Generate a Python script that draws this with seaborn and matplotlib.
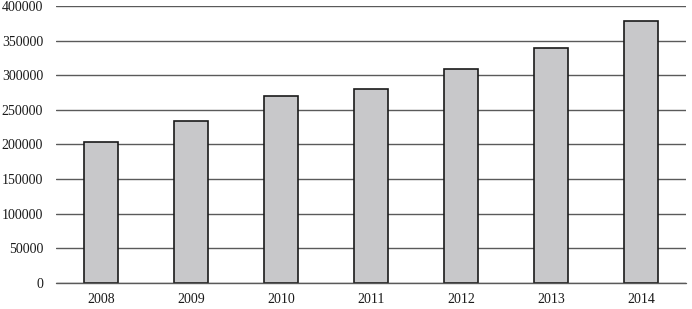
import matplotlib
matplotlib.use("Agg")
import matplotlib.pyplot as plt
import seaborn as sns
import pandas as pd

years = ["2008", "2009", "2010", "2011", "2012", "2013", "2014"]
values = [203000, 234000, 270000, 280000, 309000, 340000, 378000]
yticks = [0, 50000, 100000, 150000, 200000, 250000, 300000, 350000, 400000]

sns.set_theme(style="white")
plt.rcParams['font.family'] = ['Liberation Serif', 'DejaVu Serif']

df = pd.DataFrame({"year": years, "value": values})

fig = plt.figure(figsize=(6.92, 3.09), dpi=100)
ax = fig.add_axes([56.3 / 692, (309 - 283) / 309, 630 / 692, (283 - 6) / 309])

sns.barplot(data=df, x="year", y="value", color="#c8c8ca", edgecolor="#1a1a1a",
            linewidth=1.2, width=0.378, saturation=1, ax=ax, zorder=3)

ax.set_ylim(0, 400000)
ax.set_xlim(-0.5, 6.5)
ax.set_yticks(yticks)
ax.set_yticklabels([str(v) for v in yticks])
ax.yaxis.grid(True, color="#5a5a5a", linewidth=1.0, zorder=0)
ax.set_axisbelow(True)
ax.axhline(0, color="#5a5a5a", linewidth=1.0, clip_on=False, zorder=4)
for s in ["top", "right", "left", "bottom"]:
    ax.spines[s].set_visible(False)
ax.tick_params(axis="y", length=0, pad=9.5, labelsize=10, labelcolor="#1a1a1a")
ax.tick_params(axis="x", length=0, pad=7, labelsize=10, labelcolor="#1a1a1a")
ax.set_xlabel("")
ax.set_ylabel("")

fig.savefig("out.png", dpi=100)
